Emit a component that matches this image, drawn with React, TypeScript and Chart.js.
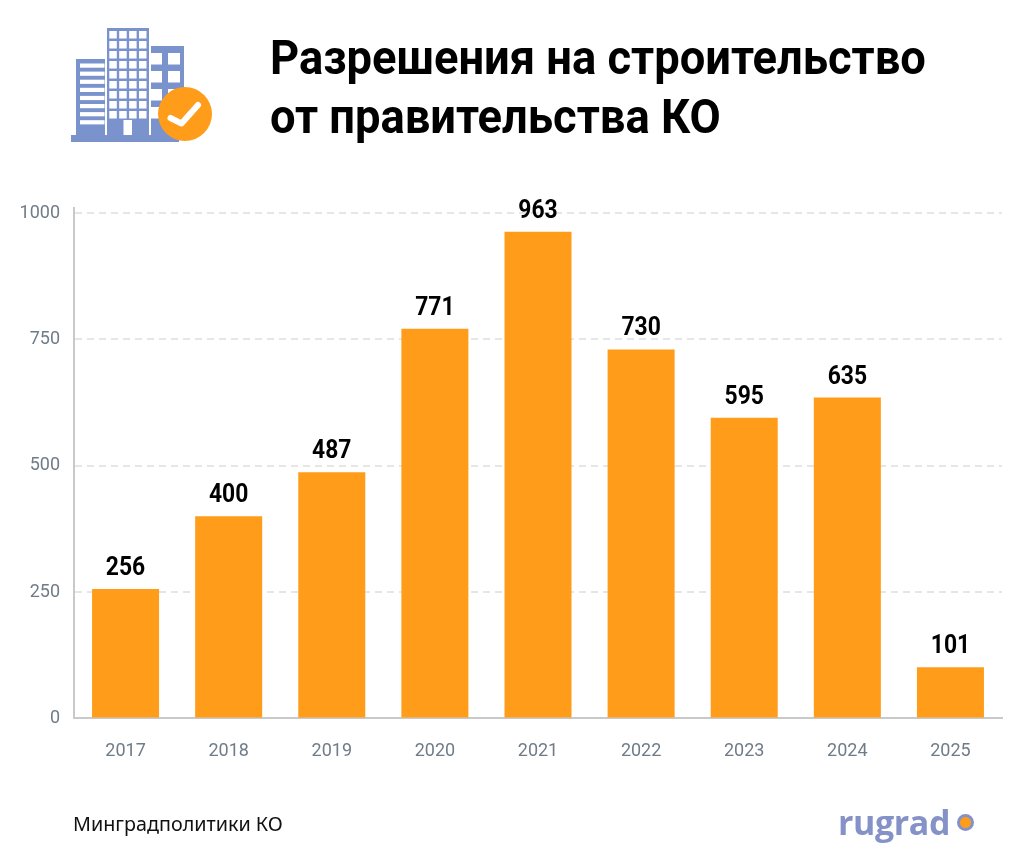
import React, { useEffect, useRef } from "react";
import { Chart, registerables } from "chart.js";

Chart.register(...registerables);

const years = ["2017", "2018", "2019", "2020", "2021", "2022", "2023", "2024", "2025"];
const permits = [256, 400, 487, 771, 963, 730, 595, 635, 101];
const yTicks = [0, 250, 500, 750, 1000];
const titleLines = ["Разрешения на строительство", "от правительства КО"];
const sourceText = "Минградполитики КО";
const brandText = "rugrad";

const BLUE = "#7b93cc";
const ORANGE = "#ff9d1b";
const GREY = "#6f7c88";
const HEAD = '"Roboto", sans-serif';
const SANS = '"Noto Sans", "Open Sans", sans-serif';

const barValueLabels = {
  id: "barValueLabels",
  afterDatasetsDraw(chart: any) {
    const { ctx } = chart;
    const meta = chart.getDatasetMeta(0);
    meta.data.forEach((bar: any, i: number) => {
      ctx.save();
      ctx.font = `bold 26px ${HEAD}`;
      ctx.fillStyle = "#000";
      ctx.textAlign = "center";
      ctx.textBaseline = "alphabetic";
      ctx.translate(bar.x, bar.y - 14);
      ctx.scale(0.88, 1);
      ctx.fillText(String(permits[i]), 0, 0);
      ctx.restore();
    });
  },
};

function BuildingIcon() {
  const towerW = [0, 1, 2, 3];
  const towerH = [0, 1, 2, 3, 4, 5, 6, 7, 8];
  const stripes = [0, 1, 2, 3, 4, 5, 6, 7];
  const rightW = [0, 1, 2, 3];
  return (
    <svg width={150} height={125} viewBox="0 0 150 125"
      style={{ position: "absolute", left: 65, top: 22 }}>
      <rect x={11} y={37} width={29} height={76} fill={BLUE} />
      {stripes.map((i) => (
        <rect key={i} x={15} y={41.5 + i * 8.1} width={24.5} height={4.2} fill="#fff" />
      ))}
      <rect x={86} y={24} width={33} height={89} fill={BLUE} />
      {rightW.map((i) => (
        <rect key={i} x={86} y={31 + i * 18} width={11} height={11.5} fill="#fff" />
      ))}
      {rightW.map((i) => (
        <rect key={i} x={103} y={31 + i * 18} width={12} height={11.5} fill="#fff" />
      ))}
      <rect x={40.5} y={4.5} width={45} height={109} fill="#fff" />
      <rect x={42} y={6} width={42} height={107} fill={BLUE} />
      {towerH.map((r) =>
        towerW.map((c) => (
          <rect key={`${r}-${c}`} x={44.3 + c * 9.9} y={9 + r * 10} width={7.5} height={7.5} fill="#fff" />
        ))
      )}
      <rect x={58.5} y={98} width={8.5} height={15} fill="#fff" />
      <rect x={6} y={113} width={108} height={7} fill={BLUE} />
      <circle cx={120} cy={92} r={27} fill={ORANGE} />
      <path d="M105.5 96 L116.5 101.5 L133 83" fill="none" stroke="#fff" strokeWidth={6}
        strokeLinecap="round" strokeLinejoin="round" />
    </svg>
  );
}

export default function App() {
  const ref = useRef<HTMLCanvasElement>(null);

  useEffect(() => {
    document.body.style.margin = "0";
    const chart = new Chart(ref.current!, {
      type: "bar",
      data: {
        labels: years,
        datasets: [
          {
            data: permits,
            backgroundColor: ORANGE,
            barPercentage: 0.65,
            categoryPercentage: 1,
          },
        ],
      },
      options: {
        responsive: false,
        animation: false,
        layout: { padding: { left: 0, right: 22, top: 208, bottom: 81 } },
        plugins: { legend: { display: false }, tooltip: { enabled: false } },
        scales: {
          x: {
            grid: { display: false, drawTicks: false },
            border: { display: true, color: "#c9c9c9", width: 2 },
            ticks: {
              color: GREY,
              font: { family: HEAD, size: 18 },
              padding: 22,
              maxRotation: 0,
            },
          },
          y: {
            min: 0,
            max: 1010,
            afterFit(scale: any) {
              scale.width = 74;
            },
            afterBuildTicks(scale: any) {
              scale.ticks = yTicks.map((value) => ({ value }));
            },
            grid: {
              color: (c: any) => (c.tick && c.tick.value === 0 ? "rgba(0,0,0,0)" : "#e6e6e6"),
              lineWidth: 2,
              drawTicks: false,
            },
            border: { display: true, color: "#c9c9c9", width: 2, dash: [7, 5] },
            ticks: {
              color: GREY,
              font: { family: HEAD, size: 18 },
              padding: 14,
              callback: (v: any) => String(v),
            },
          },
        },
      },
      plugins: [barValueLabels],
    } as any);
    return () => chart.destroy();
  }, []);

  return (
    <div style={{ position: "relative", width: 1024, height: 865, background: "#fff", overflow: "hidden" }}>
      <canvas ref={ref} width={1024} height={865} style={{ display: "block" }} />
      <BuildingIcon />
      {titleLines.map((line, i) => (
        <div
          key={line}
          style={{
            position: "absolute",
            left: 270,
            top: 28 + i * 59,
            fontFamily: HEAD,
            fontWeight: 700,
            fontSize: 48,
            lineHeight: "60px",
            color: "#000",
            whiteSpace: "nowrap",
            transform: "scaleX(0.944)",
            transformOrigin: "left center",
          }}
        >
          {line}
        </div>
      ))}
      <div style={{ position: "absolute", left: 73, top: 811, fontFamily: SANS, fontSize: 19.75, lineHeight: "26px", color: "#111", whiteSpace: "nowrap" }}>
        {sourceText}
      </div>
      <div style={{ position: "absolute", left: 838, top: 799, fontFamily: '"Open Sans", sans-serif', fontWeight: 700, fontSize: 34, lineHeight: "46px", color: "#8592c8", letterSpacing: -0.4, whiteSpace: "nowrap" }}>
        {brandText}
      </div>
      <div style={{ position: "absolute", left: 957, top: 814, width: 17, height: 17, boxSizing: "border-box", borderRadius: "50%", background: ORANGE, border: "3px solid #8592c8" }} />
    </div>
  );
}
